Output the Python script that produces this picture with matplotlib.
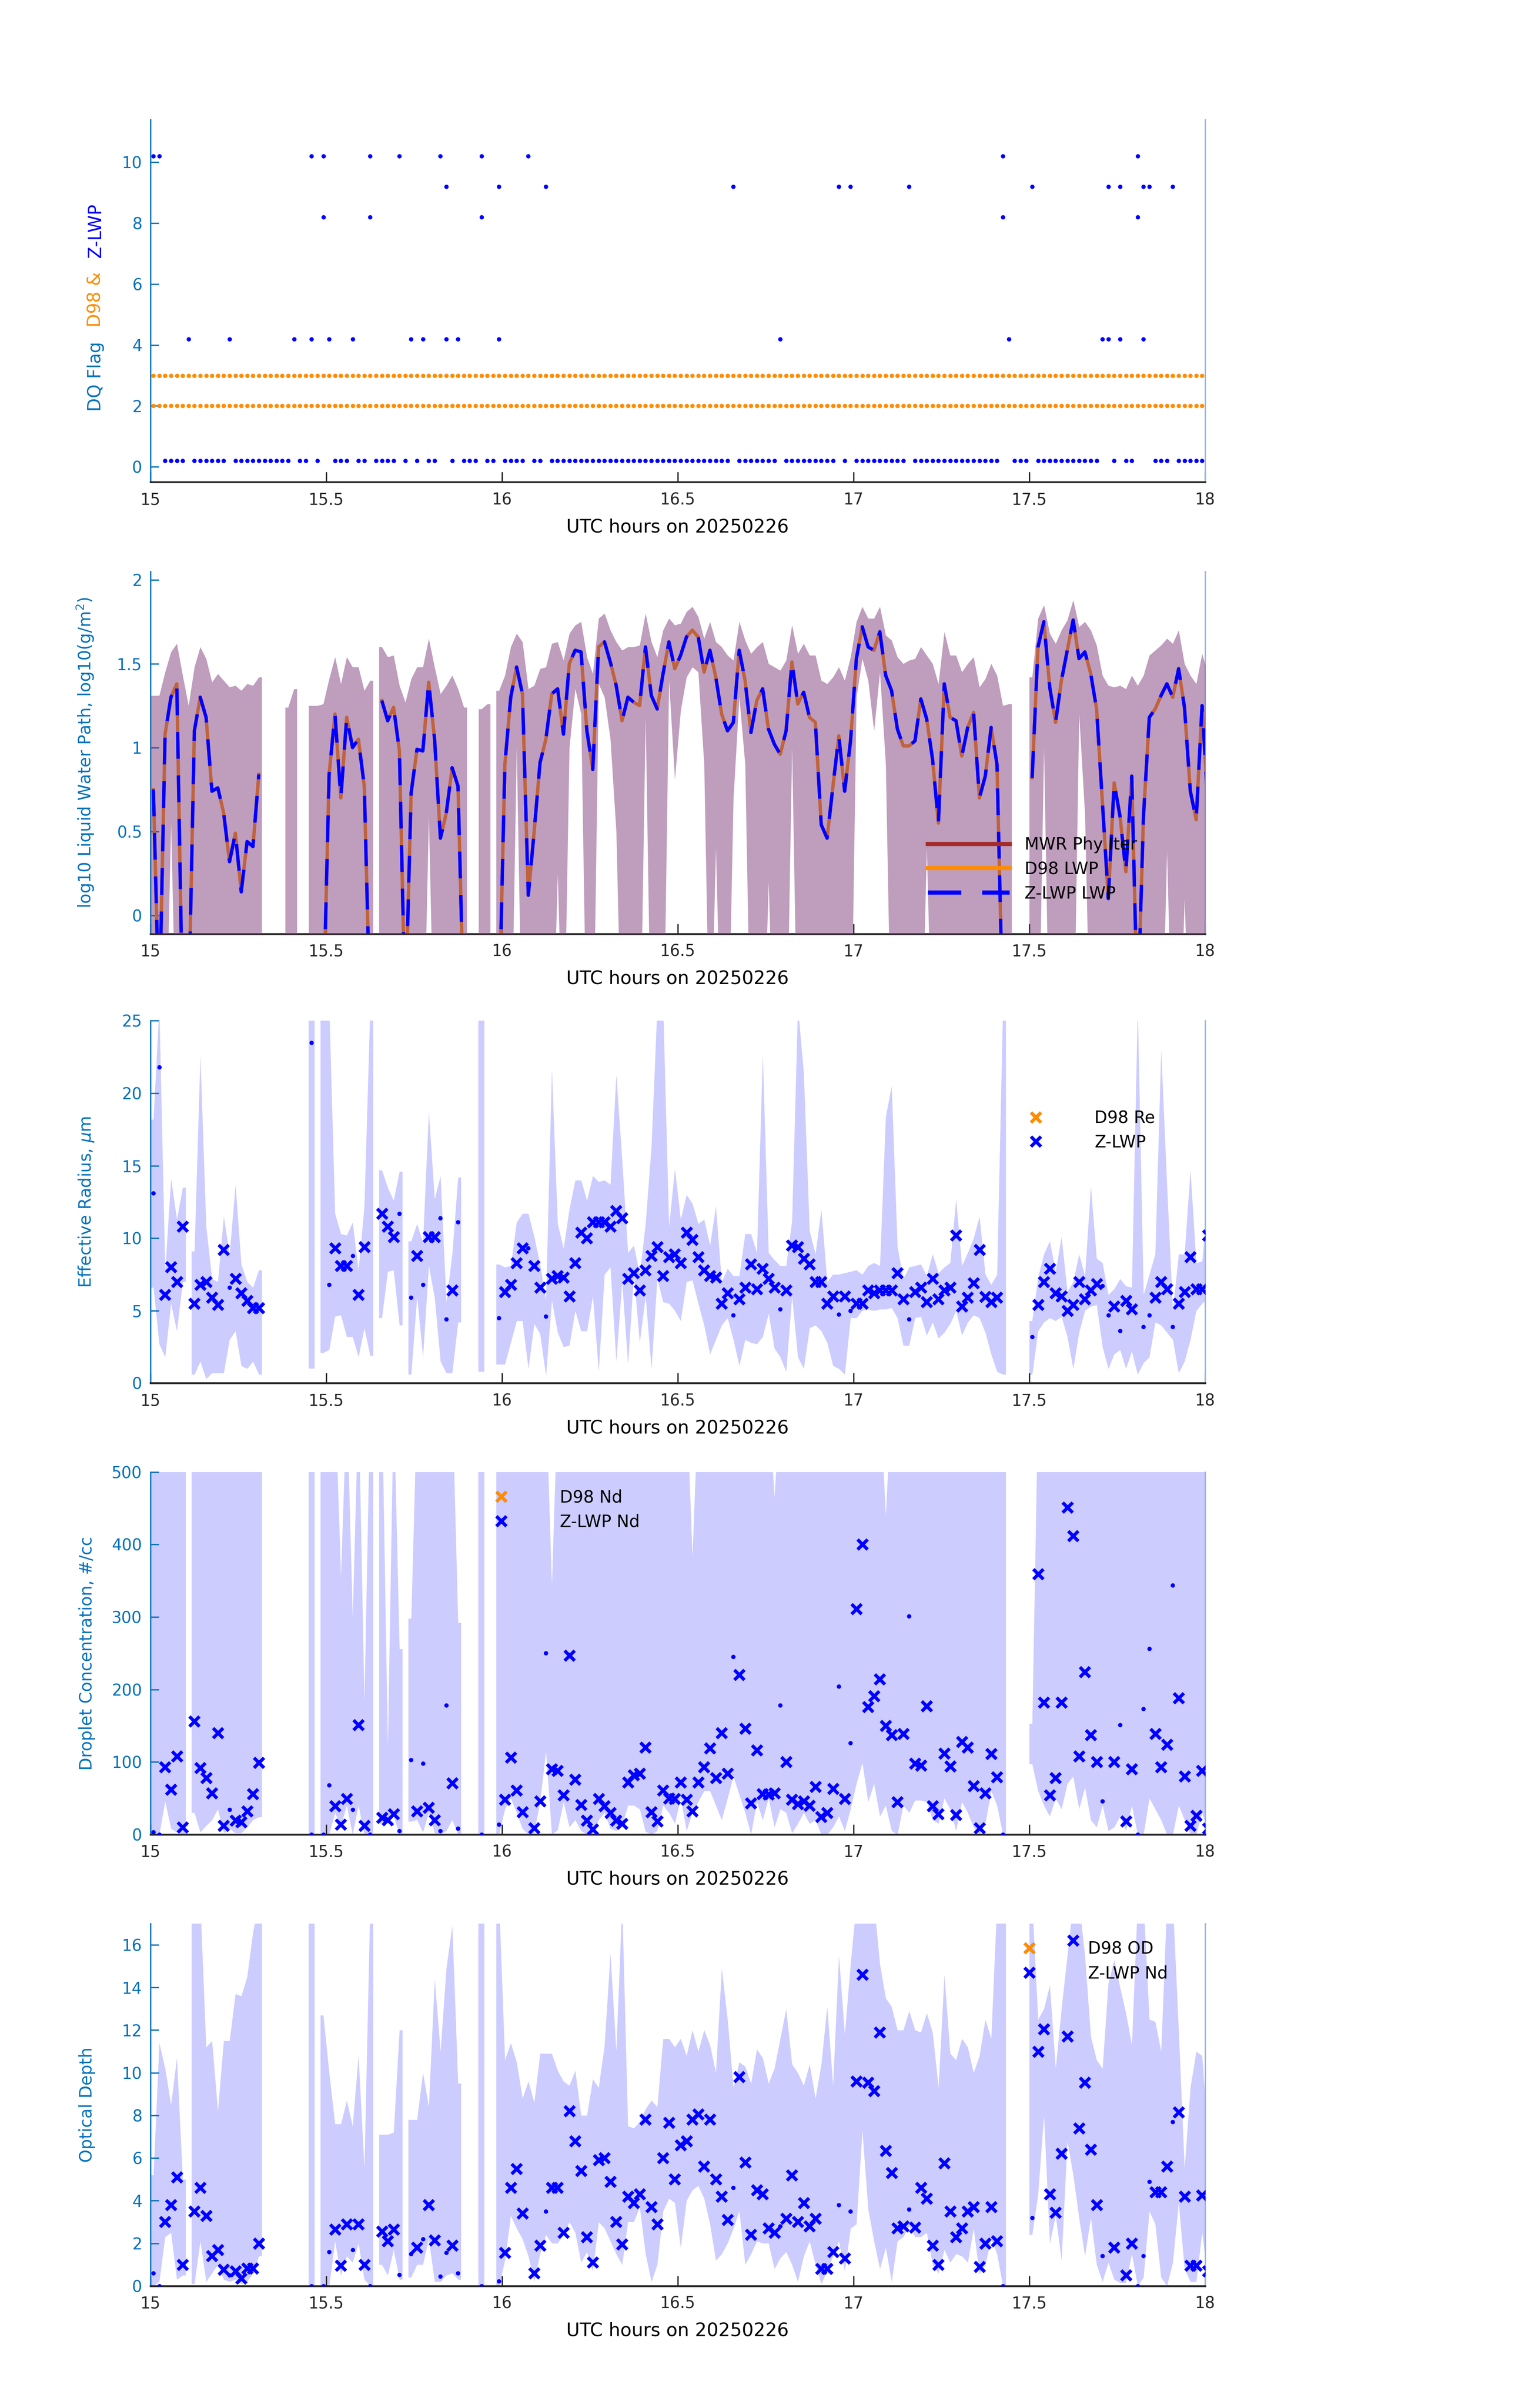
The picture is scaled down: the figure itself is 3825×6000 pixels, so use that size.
import numpy as np
import matplotlib
matplotlib.use("Agg")
import matplotlib.pyplot as plt
from matplotlib.lines import Line2D
from matplotlib.ticker import FormatStrFormatter

plt.rcParams['font.family'] = ['DejaVu Sans']

nan = np.nan

# one retrieval per minute, stamped mid-minute, 15-18 UTC
minute = np.arange(181)
t = 15 + (minute + 0.5) / 60.0
half = 0.5 / 60.0

# ---- data quality flags (minute index of each flagged retrieval) ----
zlwp_flag10 = [0, 1, 27, 29, 37, 42, 49, 56, 64, 145, 168]
zlwp_flag9 = [50, 59, 67, 99, 117, 119, 129, 150, 163, 165, 169, 170, 174]
zlwp_flag8 = [29, 37, 56, 145, 168]
zlwp_flag4 = [6, 13, 24, 27, 30, 34, 44, 46, 50, 52, 59, 107, 146, 162, 163, 165, 169]
d98_flag_rows = [2, 3]

# ---- log10 LWP ----
lwp_zlwp = [
    0.75, -0.6, 1.08, 1.30, 1.38, -0.6, -0.6, 1.10, 1.30, 1.18,
    0.74, 0.76, 0.61, 0.32, 0.49, 0.14, 0.44, 0.41, 0.84, nan,
    nan, nan, nan, nan, nan, nan, nan, nan, nan, -0.6,
    0.84, 1.20, 0.70, 1.18, 1.00, 1.05, 0.77, -0.6, nan, 1.28,
    1.16, 1.24, 0.98, -0.6, 0.73, 0.99, 0.98, 1.39, 1.05, 0.46,
    0.61, 0.88, 0.77, -0.6, nan, nan, nan, nan, nan, -0.6,
    0.90, 1.30, 1.48, 1.32, 0.12, 0.50, 0.91, 1.05, 1.32, 1.35,
    1.08, 1.50, 1.58, 1.57, 1.10, 0.87, 1.60, 1.63, 1.51, 1.37,
    1.16, 1.30, 1.27, 1.25, 1.60, 1.31, 1.23, 1.44, 1.63, 1.47,
    1.55, 1.66, 1.70, 1.66, 1.45, 1.58, 1.42, 1.20, 1.10, 1.15,
    1.58, 1.40, 1.09, 1.28, 1.35, 1.11, 1.02, 0.96, 1.10, 1.51,
    1.26, 1.33, 1.18, 1.15, 0.54, 0.46, 0.77, 1.07, 0.74, 1.04,
    1.53, 1.72, 1.60, 1.58, 1.69, 1.43, 1.34, 1.11, 1.01, 1.01,
    1.04, 1.29, 1.17, 0.93, 0.55, 1.38, 1.18, 1.16, 0.95, 1.12,
    1.21, 0.70, 0.83, 1.12, 0.90, -0.6, nan, nan, nan, nan,
    0.82, 1.60, 1.75, 1.36, 1.15, 1.40, 1.58, 1.76, 1.53, 1.57,
    1.44, 1.23, 0.67, 0.10, 0.79, 0.59, 0.26, 0.83, -0.6, 0.59,
    1.18, 1.23, 1.31, 1.38, 1.30, 1.47, 1.24, 0.74, 0.57, 1.25,
    0.66]
# the D98 curve sits right under the Z-LWP curve
lwp_d98 = list(lwp_zlwp)
lwp_mwr = []

lwp_hi = [
    1.31, 1.31, 1.45, 1.57, 1.62, 1.43, 1.25, 1.48, 1.60, 1.53,
    1.39, 1.44, 1.40, 1.36, 1.37, 1.34, 1.38, 1.37, 1.42, nan,
    nan, nan, nan, 1.24, 1.35, nan, nan, 1.25, 1.25, 1.26,
    1.41, 1.54, 1.38, 1.54, 1.48, 1.48, 1.34, 1.40, nan, 1.60,
    1.54, 1.55, 1.37, 1.27, 1.41, 1.48, 1.48, 1.65, 1.48, 1.32,
    1.37, 1.43, 1.35, 1.24, nan, nan, 1.23, 1.26, nan, 1.34,
    1.43, 1.60, 1.68, 1.63, 1.35, 1.37, 1.47, 1.48, 1.62, 1.63,
    1.52, 1.68, 1.73, 1.75, 1.54, 1.44, 1.77, 1.80, 1.70, 1.63,
    1.58, 1.60, 1.60, 1.61, 1.80, 1.63, 1.54, 1.70, 1.77, 1.73,
    1.74, 1.81, 1.84, 1.78, 1.65, 1.75, 1.63, 1.60, 1.55, 1.52,
    1.75, 1.64, 1.56, 1.60, 1.63, 1.50, 1.48, 1.46, 1.52, 1.73,
    1.56, 1.62, 1.55, 1.55, 1.40, 1.38, 1.42, 1.48, 1.40, 1.54,
    1.75, 1.84, 1.77, 1.77, 1.84, 1.67, 1.64, 1.54, 1.50, 1.52,
    1.53, 1.60, 1.55, 1.50, 1.38, 1.69, 1.55, 1.55, 1.45, 1.50,
    1.54, 1.36, 1.41, 1.50, 1.43, 1.25, 1.26, nan, nan, nan,
    1.42, 1.77, 1.85, 1.68, 1.62, 1.70, 1.76, 1.88, 1.72, 1.75,
    1.70, 1.61, 1.43, 1.37, 1.36, 1.37, 1.35, 1.43, 1.37, 1.43,
    1.55, 1.58, 1.61, 1.65, 1.62, 1.70, 1.50, 1.43, 1.38, 1.56,
    1.44]
lwp_lo = [
    -1, -1, -1, 0.55, -1, -1, -1, -1, -1, -1,
    -1, -1, -1, -1, -1, -1, -1, -1, -1, nan,
    nan, nan, nan, -1, -1, nan, nan, -1, -1, -1,
    -1, -1, -1, -1, -1, -1, -1, -1, nan, -1,
    -1, -1, -1, -1, -1, -1, -1, 0.59, -1, -1,
    -1, -1, -1, -1, nan, nan, -1, -1, nan, -1,
    -1, -1, 1.0, -1, -1, -1, -1, -1, -1, 0.25,
    -1, 1.0, 1.35, 1.2, -1, -1, 1.38, 1.30, 1.05, 0.5,
    -1, -1, -1, -1, 1.18, -1, -1, -1, 1.40, 0.81,
    1.22, 1.42, 1.48, 1.45, 0.9, -1, 0.4, -1, -1, 0.7,
    1.3, 0.9, -1, -1, -1, 0.2, -1, -1, -1, 1.0,
    -1, -1, -1, -1, -1, -1, -1, -1, -1, -1,
    1.3, 1.53, 1.4, 1.1, 1.45, 0.9, -1, -1, -1, -1,
    -1, -1, 0.4, -1, -1, -1, -1, -1, -1, -1,
    -1, -1, -1, -1, -1, -1, -1, nan, nan, nan,
    -1, -1, 1.0, -1, -1, -1, -1, -1, 1.2, 0.6,
    -1, -1, -1, -1, -1, -1, -1, -1, -1, -1,
    -1, -1, -1, 0.38, -1, -1, 0.1, -1, -1, -1,
    -1]

# ---- effective radius (um) ----
re_zlwp = [
    13.1, 21.8, 6.1, 8.0, 7.0, 10.8, nan, 5.5, 6.8, 7.0,
    5.9, 5.4, 9.2, 6.6, 7.2, 6.2, 5.7, 5.2, 5.2, nan,
    nan, nan, nan, nan, nan, nan, nan, 23.5, nan, nan,
    6.8, 9.3, 8.1, 8.1, 8.8, 6.1, 9.4, nan, nan, 11.7,
    10.8, 10.1, 11.7, nan, 5.9, 8.8, 6.8, 10.1, 10.1, 11.4,
    4.4, 6.4, 11.1, nan, nan, nan, nan, nan, nan, 4.5,
    6.3, 6.8, 8.3, 9.3, 9.3, 8.1, 6.6, 4.6, 7.2, 7.4,
    7.3, 6.0, 8.3, 10.4, 10.0, 11.1, 11.1, 11.1, 10.8, 11.9,
    11.4, 7.2, 7.6, 6.4, 7.8, 8.8, 9.4, 7.4, 8.7, 8.9,
    8.3, 10.4, 9.9, 8.7, 7.8, 7.4, 7.3, 5.5, 6.2, 4.7,
    5.8, 6.6, 8.2, 6.5, 7.9, 7.2, 6.6, 5.1, 6.4, 9.5,
    9.4, 8.6, 8.2, 7.0, 7.0, 5.5, 6.0, 4.75, 6.0, 5.0,
    5.5, 5.5, 6.4, 6.2, 6.4, 6.4, 6.4, 7.6, 5.8, 4.4,
    6.3, 6.6, 5.6, 7.2, 5.8, 6.4, 6.6, 10.2, 5.3, 5.9,
    6.9, 9.2, 5.95, 5.6, 5.9, nan, nan, nan, nan, nan,
    3.2, 5.4, 7.0, 7.9, 6.2, 6.0, 5.0, 5.4, 7.0, 5.8,
    6.4, 6.85, 6.7, 4.7, 5.3, 3.6, 5.7, 5.1, nan, 3.9,
    4.7, 5.9, 7.0, 6.5, 3.9, 5.5, 6.3, 8.7, 6.5, 6.5,
    10.2]
re_d98 = []
re_hi = [
    18.2, 26, 7.7, 14.1, 11.3, 13.5, nan, 9.1, 22.6, 10.8,
    7.2, 7.0, 11.5, 8.9, 13.7, 8.2, 7.0, 6.6, 7.8, nan,
    nan, nan, nan, nan, nan, nan, nan, 26, nan, 26,
    26, 11.7, 10.3, 10.2, 11.1, 7.8, 12.2, 26, nan, 14.7,
    13.5, 12.6, 14.6, nan, 9.8, 11.0, 9.7, 18.7, 12.7, 14.3,
    5.6, 8.9, 14.2, nan, nan, nan, 26, nan, nan, 8.2,
    8.0, 8.1, 11.1, 11.7, 11.7, 10.1, 8.2, 5.7, 21.7, 11.0,
    9.3, 12.0, 14.0, 14.0, 12.6, 14.3, 13.9, 14.0, 13.7, 21.3,
    15.4, 9.0, 9.5, 7.5, 11.0, 16.3, 26, 26, 10.8, 14.8,
    11.3, 13.0, 12.4, 11.0, 11.3, 9.5, 12.2, 7.0, 7.9, 7.4,
    7.4, 10.3, 10.3, 9.0, 22.7, 9.0, 8.5, 8.1, 8.1, 11.2,
    26, 21.4, 10.5, 8.9, 12.0, 7.0, 7.5, 7.5, 7.6, 7.7,
    7.8, 7.5, 8.1, 8.3, 8.1, 18.4, 20.5, 9.4, 7.2, 8.0,
    8.1, 8.2, 7.4, 8.9, 7.6, 8.0, 8.3, 12.7, 8.1, 9.0,
    10.0, 11.5, 7.5, 6.8, 7.5, 26, nan, nan, nan, nan,
    4.3, 7.3, 8.9, 9.8, 7.7, 10.1, 6.3, 7.0, 8.9, 7.4,
    13.6, 8.6, 8.3, 6.1, 6.5, 7.2, 6.7, 6.6, 26, 6.1,
    7.5, 8.9, 23.0, 13.7, 5.0, 8.9, 8.9, 14.7, 8.3, 8.4,
    12.8]
re_lo = [
    6.6, 2.7, 1.8, 5.5, 3.6, 7.0, nan, 0.6, 1.5, 0.3,
    0.7, 0.7, 0.7, 3.0, 3.6, 1.2, 1.0, 1.5, 0.6, nan,
    nan, nan, nan, nan, nan, nan, nan, 1.0, nan, 2.1,
    2.3, 4.6, 4.7, 3.2, 3.2, 1.8, 3.8, 1.9, nan, 4.5,
    7.7, 7.8, 4.0, nan, 0.6, 6.0, 1.8, 8.1, 5.9, 1.5,
    0.7, 0.7, 4.2, nan, nan, nan, 0.8, nan, nan, 1.3,
    1.3, 2.8, 4.3, 4.3, 1.0, 4.1, 3.4, 0.5, 5.7, 3.5,
    2.5, 2.6, 5.0, 3.6, 3.6, 6.0, 0.8, 7.5, 8.0, 1.5,
    7.0, 1.3, 7.5, 2.8, 6.0, 1.0, 7.2, 5.6, 5.5, 5.0,
    4.3, 7.0, 7.1, 5.5, 4.0, 2.0, 3.0, 4.0, 4.5, 3.0,
    1.2, 3.0, 2.8, 2.7, 3.2, 4.8, 2.4, 1.8, 0.8, 6.0,
    1.8, 1.0, 3.8, 4.0, 3.6, 2.8, 1.2, 1.0, 0.6, 4.5,
    4.5, 5.0, 5.1, 5.0, 5.1, 5.1, 5.2, 4.5, 2.6, 2.6,
    4.5, 4.6, 3.3, 4.2, 3.1, 3.5, 4.1, 5.0, 3.3, 4.2,
    4.7, 4.5, 3.5, 2.0, 0.8, 0.6, nan, nan, nan, nan,
    0.6, 3.6, 4.2, 4.5, 4.3, 4.6, 3.2, 1.0, 3.5, 5.0,
    5.3, 5.4, 2.5, 1.0, 2.0, 2.3, 1.0, 2.2, 0.6, 1.4,
    1.8, 4.2, 4.0, 3.5, 3.0, 0.7, 1.5, 3.0, 5.0, 5.5,
    5.8]

# ---- droplet concentration (#/cc) ----
nd_zlwp = [
    3, 0, 93, 62, 108, 10, nan, 156, 92, 78,
    57, 140, 12, 34, 19, 17, 32, 56, 99, nan,
    nan, nan, nan, nan, nan, nan, nan, 0, nan, 0,
    68, 39, 14, 49, 34, 151, 12, 0, nan, 23,
    20, 28, 5, nan, 103, 32, 98, 37, 20, 5,
    178, 71, 8, nan, nan, nan, 0, nan, nan, 14,
    48, 106, 61, 31, nan, 9, 46, 250, 90, 88,
    54, 247, 76, 41, 19, 7, 49, 39, 30, 19,
    15, 72, 82, 84, 120, 31, 18, 61, 50, 49,
    72, 48, 32, 72, 93, 119, 78, 140, 84, 245,
    220, 146, 43, 116, 56, 55, 57, 178, 100, 48,
    42, 46, 40, 66, 24, 30, 63, 204, 49, 126,
    311, 400, 176, 191, 214, 150, 137, 45, 139, 301,
    98, 95, 177, 39, 28, 112, 94, 27, 128, 120,
    67, 9, 57, 111, 79, 0, nan, nan, nan, nan,
    nan, 359, 182, 54, 78, 182, 451, 412, 108, 224,
    137, 100, 46, nan, 100, 151, 18, 90, 0, 173,
    256, 139, 93, 124, 344, 188, 80, 12, 26, 88,
    8]
nd_d98 = []
# 600 = band runs off the top of the panel
nd_hi = [
    600, 600, 600, 600, 600, 600, nan, 600, 600, 600,
    600, 600, 600, 600, 600, 600, 600, 600, 600, nan,
    nan, nan, nan, nan, nan, nan, nan, 600, nan, 600,
    600, 600, 356, 600, 299, 600, 182, 600, nan, 600,
    120, 600, 256, nan, 298, 600, 600, 600, 600, 600,
    600, 600, 292, nan, nan, nan, 600, nan, nan, 600,
    600, 600, 600, 600, 600, 600, 600, 600, 344, 600,
    600, 600, 600, 600, 600, 600, 600, 600, 600, 600,
    600, 600, 600, 600, 600, 600, 600, 600, 600, 600,
    600, 600, 383, 600, 600, 600, 600, 600, 600, 600,
    600, 600, 600, 600, 600, 600, 465, 600, 600, 600,
    600, 600, 600, 600, 600, 600, 600, 600, 600, 600,
    600, 600, 600, 600, 600, 440, 600, 600, 600, 600,
    600, 600, 600, 600, 600, 600, 600, 600, 600, 600,
    600, 600, 600, 600, 600, 600, nan, nan, nan, nan,
    153, 600, 600, 600, 600, 600, 600, 600, 600, 600,
    600, 600, 600, 600, 600, 600, 600, 600, 600, 600,
    600, 600, 600, 600, 600, 600, 600, 600, 600, 600,
    600]
nd_lo = [
    0, 0, 46, 8, 3, 0, nan, 30, 3, 12,
    20, 35, 2, 8, 2, 2, 10, 20, 24, nan,
    nan, nan, nan, nan, nan, nan, nan, 0, nan, 0,
    0, 30, 12, 40, 0, 40, 0, 0, nan, 15,
    18, 25, 0, nan, 18, 20, 3, 30, 2, 0,
    5, 20, 0, nan, nan, nan, 0, nan, nan, 0,
    35, 50, 30, 8, 0, 2, 45, 115, 0, 6,
    45, 10, 20, 5, 0, 0, 20, 30, 8, 5,
    12, 40, 40, 35, 4, 0, 5, 40, 30, 15,
    50, 5, 30, 45, 60, 60, 40, 20, 50, 80,
    55, 30, 0, 45, 20, 50, 10, 35, 30, 2,
    15, 30, 15, 20, 0, 0, 10, 25, 5, 35,
    70, 99, 45, 70, 25, 40, 5, 0, 40, 30,
    47, 47, 45, 20, 15, 50, 35, 5, 45, 30,
    10, 0, 15, 60, 40, 0, nan, nan, nan, nan,
    97, 60, 40, 25, 50, 35, 70, 80, 35, 65,
    20, 10, 40, 5, 10, 25, 5, 40, 0, 0,
    50, 35, 20, 0, 0, 40, 20, 0, 0, 30,
    3]

# ---- optical depth ----
od_zlwp = [
    0.6, 0.0, 3.0, 3.8, 5.1, 1.0, nan, 3.5, 4.6, 3.3,
    1.4, 1.7, 0.76, 0.5, 0.7, 0.36, 0.82, 0.82, 2.0, nan,
    nan, nan, nan, nan, nan, nan, nan, 0.0, nan, 0.0,
    1.6, 2.65, 0.95, 2.9, 1.7, 2.9, 1.0, 0.0, nan, 2.55,
    2.1, 2.65, 0.53, nan, 1.5, 1.8, 2.2, 3.8, 2.15, 0.45,
    1.55, 1.9, 0.6, nan, nan, nan, 0.0, nan, nan, 0.23,
    1.55, 4.6, 5.5, 3.4, nan, 0.6, 1.9, 3.5, 4.6, 4.6,
    2.5, 8.2, 6.8, 5.4, 2.3, 1.1, 5.9, 6.0, 4.9, 3.0,
    1.95, 4.2, 3.9, 4.3, 7.8, 3.7, 2.9, 6.0, 7.65, 5.0,
    6.6, 6.8, 7.8, 8.05, 5.6, 7.8, 5.0, 4.2, 3.1, 4.6,
    9.8, 5.8, 2.4, 4.5, 4.3, 2.7, 2.5, 2.8, 3.15, 5.2,
    3.0, 3.9, 2.8, 3.15, 0.8, 0.8, 1.6, 3.8, 1.3, 3.5,
    9.6, 14.6, 9.55, 9.15, 11.9, 6.35, 5.3, 2.7, 2.8, 3.6,
    2.75, 4.6, 4.1, 1.9, 1.0, 5.75, 3.5, 2.3, 2.7, 3.5,
    3.7, 0.9, 2.0, 3.7, 2.1, 0.0, nan, nan, nan, nan,
    3.2, 11.0, 12.05, 4.3, 3.45, 6.2, 11.7, 16.2, 7.4, 9.55,
    6.4, 3.8, 1.4, nan, 1.8, nan, 0.5, 2.0, 0.0, 1.4,
    4.9, 4.4, 4.4, 5.6, 7.7, 8.15, 4.2, 0.95, 0.95, 4.25,
    0.7]
od_d98 = []
od_hi = [
    5.2, 11.4, 10.2, 8.5, 10.7, 5.0, nan, 18, 18, 11.2,
    11.5, 8.2, 11.5, 11.5, 13.7, 13.6, 14.5, 16.6, 18, nan,
    nan, nan, nan, nan, nan, nan, nan, 18, nan, 12.7,
    10.0, 7.6, 7.6, 8.7, 7.5, 10.8, 5.5, 18, nan, 7.1,
    7.1, 7.2, 12.0, nan, 7.8, 7.8, 10.0, 8.4, 14.4, 11.0,
    14.9, 16.9, 9.5, nan, nan, nan, 18, nan, nan, 18,
    10.6, 11.4, 10.5, 8.8, 9.6, 8.6, 10.9, 10.9, 10.9, 10.1,
    9.6, 9.4, 10.1, 8.0, 8.0, 9.7, 9.3, 11.3, 15.6, 11.0,
    18, 7.5, 7.4, 7.7, 8.3, 8.7, 8.4, 11.6, 11.6, 11.2,
    11.6, 10.8, 12.0, 11.0, 12.0, 11.3, 10.0, 14.9, 12.5, 9.3,
    10.5, 10.3, 9.5, 11.1, 10.7, 9.5, 10.2, 11.6, 13.0, 10.4,
    10.0, 9.4, 10.4, 8.8, 10.4, 13.1, 9.4, 15.5, 11.8, 15.1,
    18, 18, 18, 18, 15.1, 13.5, 13.1, 12.0, 12.0, 12.9,
    12.0, 11.9, 12.8, 11.9, 9.3, 14.6, 10.9, 10.6, 11.6, 11.2,
    10.0, 10.8, 12.5, 11.6, 18, 18, nan, nan, nan, nan,
    18, 12.5, 13.0, 14.1, 10.2, 13.0, 15.5, 18, 18, 15.5,
    11.7, 10.6, 10.2, 14.2, 15.3, 14.0, 12.8, 11.3, 18, 18,
    12.5, 12.4, 11.0, 18, 18, 12.0, 5.5, 9.3, 11.0, 10.8,
    6.9]
od_lo = [
    0.0, 0.2, 2.3, 2.5, 0.3, 0.5, nan, 0.1, 2.1, 0.2,
    0.6, 1.0, 0.3, 0.2, 0.3, 0.1, 0.2, 0.6, 1.4, nan,
    nan, nan, nan, nan, nan, nan, nan, 0.0, nan, 0.0,
    0.0, 2.1, 0.5, 1.4, 1.1, 2.0, 0.3, 0.0, nan, 1.0,
    0.5, 1.7, 0.3, nan, 0.4, 1.0, 1.0, 2.2, 0.2, 0.2,
    0.5, 0.6, 0.3, nan, nan, nan, 0.0, nan, nan, 0.0,
    1.2, 3.3, 2.7, 2.2, 1.4, 0.2, 1.5, 2.4, 2.0, 2.0,
    2.4, 3.0, 2.5, 1.1, 1.6, 0.7, 3.0, 2.7, 2.1, 1.5,
    1.0, 3.0, 3.0, 3.7, 1.5, 0.2, 1.0, 3.5, 4.1, 3.9,
    1.8, 4.0, 4.5, 4.7, 4.1, 2.9, 1.2, 1.5, 2.0, 2.7,
    3.5, 1.0, 1.5, 2.1, 2.0, 2.0, 0.8, 1.3, 1.6, 1.0,
    0.2, 1.4, 2.1, 1.0, 0.1, 0.7, 1.4, 2.1, 0.7, 2.7,
    2.9, 7.3, 3.6, 2.1, 0.8, 1.8, 0.2, 2.1, 2.3, 2.8,
    2.3, 2.3, 2.5, 1.0, 0.6, 1.7, 1.1, 1.5, 1.4, 1.1,
    2.7, 0.55, 1.0, 2.2, 1.5, 0.0, nan, nan, nan, nan,
    2.4, 4.3, 8.0, 2.0, 3.3, 1.2, 6.8, 5.2, 3.2, 1.4,
    3.2, 1.0, 0.2, 1.1, 0.3, 0.15, 0.15, 1.5, 0.0, 0.4,
    3.5, 2.9, 0.4, 0.0, 1.1, 3.9, 0.8, 0.2, 0.2, 2.5,
    0.2]

for name, arr in [('lwp_zlwp', lwp_zlwp), ('lwp_hi', lwp_hi), ('lwp_lo', lwp_lo),
                  ('re_zlwp', re_zlwp), ('re_hi', re_hi), ('re_lo', re_lo),
                  ('nd_zlwp', nd_zlwp), ('nd_hi', nd_hi), ('nd_lo', nd_lo),
                  ('od_zlwp', od_zlwp), ('od_hi', od_hi), ('od_lo', od_lo)]:
    assert len(arr) == len(t), (name, len(arr))

BLUE_AX = '#0072BD'
ORANGE = '#FF8C00'
flagged = np.zeros(len(t), bool)
flagged[zlwp_flag10 + zlwp_flag9 + zlwp_flag8 + zlwp_flag4] = True


def band(ax, lo, hi, **kw):
    lo = np.asarray(lo, float)
    hi = np.asarray(hi, float)
    good = np.flatnonzero(~np.isnan(hi))
    for run in np.split(good, np.flatnonzero(np.diff(good) > 1) + 1):
        x = np.r_[t[run[0]] - half, t[run], t[run[-1]] + half]
        y1 = np.r_[lo[run[0]], lo[run], lo[run[-1]]]
        y2 = np.r_[hi[run[0]], hi[run], hi[run[-1]]]
        ax.fill_between(x, y1, y2, lw=0, **kw)


def retrievals(ax, vals):
    v = np.asarray(vals, float)
    ax.plot(t[~flagged], v[~flagged], ls='none', marker='x', color='blue',
            ms=6, mew=2, zorder=4)
    ax.plot(t[flagged], v[flagged], ls='none', marker='o', color='blue',
            ms=2.6, mew=0, zorder=4)


def style(ax):
    ax.set_xlim(15, 18)
    ax.set_xticks([15, 15.5, 16, 16.5, 17, 17.5, 18])
    ax.xaxis.set_major_formatter(FormatStrFormatter('%g'))
    ax.yaxis.set_major_formatter(FormatStrFormatter('%g'))
    ax.spines['top'].set_visible(False)
    ax.spines['left'].set_color(BLUE_AX)
    ax.spines['right'].set_color('#8fbbe0')
    ax.spines['right'].set_linewidth(0.8)
    ax.spines['bottom'].set_color('#262626')
    ax.spines['bottom'].set_linewidth(1.1)
    ax.tick_params(axis='y', colors=BLUE_AX, direction='in', length=5,
                   labelsize=9.5, pad=5, right=False)
    ax.tick_params(axis='x', colors='#262626', direction='in', length=6,
                   labelsize=9.5, pad=6)
    ax.set_xlabel('UTC hours on 20250226', fontsize=11, labelpad=6)
    ax.yaxis.set_label_coords(-0.052, 0.5)


def marker_legend(ax, labels, x, y):
    h = [Line2D([], [], ls='none', marker='x', color=ORANGE, ms=6, mew=2),
         Line2D([], [], ls='none', marker='x', color='blue', ms=6, mew=2)]
    ax.legend(h, labels, loc='center left', bbox_to_anchor=(x, y),
              frameon=False, fontsize=10, handlelength=5, handletextpad=1.0,
              borderpad=0, borderaxespad=0, labelspacing=0.45, numpoints=1)


fig = plt.figure(figsize=(12.75, 20), dpi=300)
bottoms = [0.7998, 0.6122, 0.4256, 0.2382, 0.0507]
axs = [fig.add_axes([0.098, b, 0.687, 0.1505]) for b in bottoms]
ax1, ax2, ax3, ax4, ax5 = axs

# ---- panel 1: DQ flags ----
for row in d98_flag_rows:
    ax1.plot(t, np.full(len(t), row), ls='none', marker='o', color=ORANGE,
             ms=2.6, mew=0)
zero_rows = np.flatnonzero(~flagged)
for level, idx in [(0, zero_rows), (4, zlwp_flag4), (8, zlwp_flag8),
                   (9, zlwp_flag9), (10, zlwp_flag10)]:
    ax1.plot(t[idx], np.full(len(idx), level + 0.2), ls='none', marker='o',
             color='blue', ms=2.6, mew=0)
ax1.set_ylim(-0.5, 11.4)
ax1.set_yticks([0, 2, 4, 6, 8, 10])
style(ax1)

# ---- panel 2: LWP ----
ax2.plot(t, lwp_d98, color=ORANGE, lw=2.0, zorder=2)
band(ax2, lwp_lo, lwp_hi, color='#803c7c', alpha=0.5, zorder=3)
ax2.plot(t, lwp_zlwp, color='blue', lw=2.0, dashes=(8, 5), zorder=4)
ax2.set_ylim(-0.11, 2.05)
ax2.set_yticks([0, 0.5, 1, 1.5, 2])
ax2.set_ylabel('log10 Liquid Water Path, log10(g/m$^2$)', color=BLUE_AX,
               fontsize=10)
style(ax2)
h2 = [Line2D([], [], color='#A52A2A', lw=2.5),
      Line2D([], [], color=ORANGE, lw=2.5),
      Line2D([], [], color='blue', lw=2.5, dashes=(8, 5))]
ax2.legend(h2, ['MWR Phy Iter', 'D98 LWP', 'Z-LWP LWP'], loc='center left',
           bbox_to_anchor=(0.737, 0.178), frameon=False, fontsize=10,
           handlelength=4.9, handletextpad=0.9, borderpad=0, borderaxespad=0,
           labelspacing=0.45)

# ---- panel 3: effective radius ----
band(ax3, re_lo, re_hi, color='#ccccff', zorder=1)
retrievals(ax3, re_zlwp)
ax3.set_ylim(0, 25)
ax3.set_yticks([0, 5, 10, 15, 20, 25])
ax3.set_ylabel('Effective Radius, $\\mu$m', color=BLUE_AX, fontsize=10)
style(ax3)
marker_legend(ax3, ['D98 Re', 'Z-LWP'], 0.80, 0.6975)

# ---- panel 4: droplet concentration ----
band(ax4, nd_lo, nd_hi, color='#ccccff', zorder=1)
retrievals(ax4, nd_zlwp)
ax4.set_ylim(0, 500)
ax4.set_yticks([0, 100, 200, 300, 400, 500])
ax4.set_ylabel('Droplet Concentration, #/cc', color=BLUE_AX, fontsize=10)
style(ax4)
marker_legend(ax4, ['D98 Nd', 'Z-LWP Nd'], 0.293, 0.896)

# ---- panel 5: optical depth ----
band(ax5, od_lo, od_hi, color='#ccccff', zorder=1)
retrievals(ax5, od_zlwp)
ax5.set_ylim(0, 17)
ax5.set_yticks([0, 2, 4, 6, 8, 10, 12, 14, 16])
ax5.set_ylabel('Optical Depth', color=BLUE_AX, fontsize=10)
style(ax5)
marker_legend(ax5, ['D98 OD', 'Z-LWP Nd'], 0.794, 0.896)

# multi-coloured y label of the flag panel
fig.canvas.draw()
rend = fig.canvas.get_renderer()
ypos = 0.195
for txt, col in [('DQ Flag', BLUE_AX), ('D98 &', ORANGE), ('Z-LWP', 'blue')]:
    tt = ax1.text(-0.052, ypos, txt, rotation=90, color=col, fontsize=10.5,
                  ha='center', va='bottom', transform=ax1.transAxes)
    bb = tt.get_window_extent(rend).transformed(ax1.transAxes.inverted())
    ypos = bb.y1 + 0.04

fig.savefig('out.png', dpi=300)
